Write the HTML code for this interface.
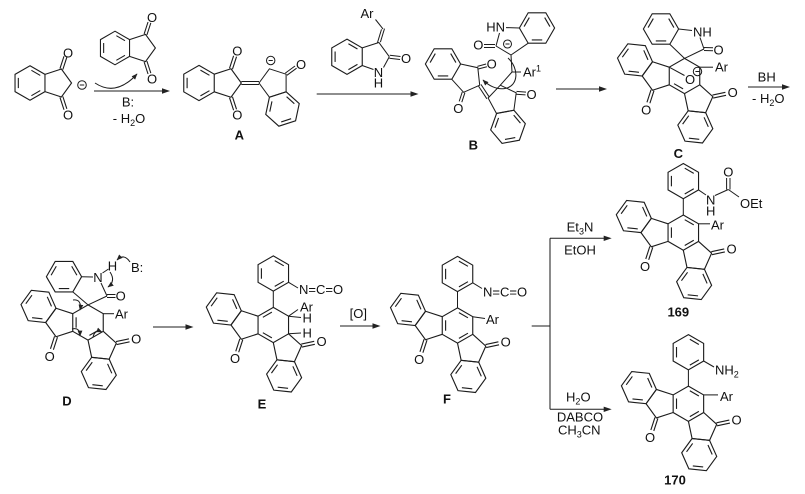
<!DOCTYPE html>
<html><head><meta charset="utf-8">
<style>
html,body{margin:0;padding:0;background:#fff;}
svg{display:block;}
text{font-family:"Liberation Sans",Arial,sans-serif;font-size:13px;fill:#111;stroke:none;}
.b{font-weight:bold;}
</style></head><body>
<svg width="805" height="494" viewBox="0 0 805 494" xmlns="http://www.w3.org/2000/svg">
<defs>
<g id="bz">
<polygon points="0,-16 13.86,-8 13.86,8 0,16 -13.86,8 -13.86,-8"/>
<line x1="1.3" y1="-11.73" x2="9.51" y2="-6.99"/>
<line x1="9.51" y1="6.99" x2="1.3" y2="11.73"/>
<line x1="-10.81" y1="4.74" x2="-10.81" y2="-4.74"/>
</g>
<polygon id="hx" points="0,-16 13.86,-8 13.86,8 0,16 -13.86,8 -13.86,-8"/>
<g id="unit">
<polyline points="-13.86,-8 -29.08,-12.94 -38.48,0 -29.08,12.94 -13.86,8"/>
<line x1="-27.75" y1="13.37" x2="-31.46" y2="24.78"/>
<line x1="-30.41" y1="12.51" x2="-34.12" y2="23.92"/>
<use href="#bz" transform="translate(-44.99,-14.62) rotate(36)"/>
</g>
<g id="ind">
<use href="#bz"/>
<polyline points="13.86,-8 29.08,-12.94 38.48,0 29.08,12.94 13.86,8"/>
<line x1="30.41" y1="12.51" x2="34.12" y2="23.92"/>
<line x1="27.75" y1="13.37" x2="31.46" y2="24.78"/>
<line x1="30.41" y1="-12.51" x2="34.12" y2="-23.92"/>
<line x1="27.75" y1="-13.37" x2="31.46" y2="-24.78"/>
</g>
<marker id="ah" viewBox="0 0 10 10" refX="9" refY="5" markerWidth="6" markerHeight="6" orient="auto" markerUnits="userSpaceOnUse">
<path d="M0,1 L10,5 L0,9 z" fill="#222" stroke="none"/>
</marker>
</defs>

<g stroke="#1c1c1c" stroke-width="1.02" fill="none">
<!-- ===== Row 1 ===== -->
<use href="#ind" transform="translate(30,83) scale(1.08)"/>
<circle cx="82" cy="85" r="4.3"/><line x1="79.8" y1="85" x2="84.2" y2="85"/>
<use href="#ind" transform="translate(115,48) scale(1.05)"/>
<path d="M95,83 Q116,97 137,74" marker-end="url(#ah)"/>
<line x1="94" y1="91" x2="163" y2="91"/>
<polygon points="170,91 162,88.3 162,93.7" fill="#222" stroke="none"/>

<!-- A -->
<use href="#ind" transform="translate(199,83) scale(1.1)"/>
<line x1="241.3" y1="81.5" x2="259" y2="81.5"/><line x1="241.3" y1="84.5" x2="259" y2="84.5"/>
<polygon points="259,83 269.4,68.8 286.1,74.2 286.1,91.8 269.4,97.2"/>
<use href="#bz" transform="translate(282.5,109) rotate(12) scale(1.1)"/>
<line x1="286.9" y1="75.3" x2="296.6" y2="68.2"/><line x1="285.3" y1="73.1" x2="295" y2="66"/>
<circle cx="270.7" cy="60.5" r="4.2"/><line x1="268.6" y1="60.5" x2="272.8" y2="60.5"/>

<!-- arrow 2 + reagent -->
<line x1="316.7" y1="94" x2="411" y2="94"/>
<polygon points="418.5,94 410.5,91.3 410.5,96.7" fill="#222" stroke="none"/>
<use href="#bz" transform="translate(347,56.7) scale(1.1)"/>
<polyline points="362.2,47.9 378.9,42.5 389.3,56.7"/>
<line x1="362.2" y1="65.5" x2="373.5" y2="69.5"/>
<line x1="383.5" y1="67.5" x2="389.3" y2="56.7"/>
<line x1="389.8" y1="55.2" x2="400.5" y2="56.5"/><line x1="389.3" y1="58.2" x2="400" y2="59.5"/>
<line x1="377.4" y1="42.9" x2="381.5" y2="29.4"/><line x1="380.4" y1="42.1" x2="384.5" y2="28.6"/>
<line x1="383" y1="29" x2="375.5" y2="19.5"/>

<!-- B -->
<use href="#bz" transform="translate(443,64) rotate(30) scale(1.1)"/>
<polyline points="460.6,64 477.8,67.7 479.7,85.2 463.6,92.3 451.8,79.3"/>
<line x1="478.2" y1="69.05" x2="486.9" y2="66.7"/><line x1="477.4" y1="66.35" x2="486.1" y2="64"/>
<line x1="464.9" y1="92.7" x2="461.8" y2="102.2"/><line x1="462.3" y1="91.9" x2="459.2" y2="101.4"/>
<line x1="480.95" y1="84.4" x2="489.35" y2="97.2"/><line x1="478.45" y1="86" x2="486.85" y2="98.8"/>
<polygon points="488.1,98 500.3,85.2 516.2,92.8 513.9,110.3 496.5,113.5"/>
<line x1="516.5" y1="91.4" x2="526" y2="92.1"/><line x1="516" y1="94.2" x2="525.5" y2="94.9"/>
<use href="#bz" transform="translate(508,126.8) rotate(19.7) scale(1.1)"/>
<line x1="500.3" y1="85.2" x2="512" y2="72"/>
<line x1="512" y1="72" x2="521" y2="72"/>
<line x1="512" y1="72" x2="511" y2="55"/>
<line x1="511" y1="55" x2="528.2" y2="43.2"/>
<line x1="511" y1="55" x2="496" y2="46"/>
<line x1="496" y1="46" x2="499.5" y2="33"/>
<line x1="506" y1="27.6" x2="519.4" y2="28"/>
<use href="#bz" transform="translate(537,28) rotate(30) scale(1.1)"/>
<line x1="495" y1="44.5" x2="484" y2="44.5"/><line x1="495" y1="47.5" x2="484" y2="47.5"/>
<circle cx="507.5" cy="44" r="4"/><line x1="505.5" y1="44" x2="509.5" y2="44"/>
<path d="M508,58 C519,68 519,86 505,88.5 C496,90 488,85 483,80" marker-end="url(#ah)"/>

<line x1="556" y1="89" x2="600" y2="89"/>
<polygon points="607,89 599,86.3 599,91.7" fill="#222" stroke="none"/>

<!-- C -->
<g transform="translate(684.5,76) scale(1.1)">
<use href="#hx"/><line x1="-9.51" y1="6.99" x2="-1.3" y2="11.73"/>
<use href="#unit"/><use href="#unit" transform="rotate(-120)"/>
</g>
<line x1="699.75" y1="67.2" x2="713" y2="67.2"/>
<line x1="669.25" y1="67.2" x2="684.5" y2="75.5"/>
<circle cx="697.5" cy="71.5" r="4.2"/><line x1="695.4" y1="71.5" x2="699.6" y2="71.5"/>
<line x1="684.5" y1="58.4" x2="704" y2="49"/>
<line x1="704" y1="47.5" x2="713" y2="47.8"/><line x1="704" y1="50.5" x2="713" y2="50.8"/>
<line x1="704" y1="49" x2="700" y2="37.5"/>
<line x1="678.6" y1="29" x2="692" y2="30.5"/>
<line x1="684.5" y1="58.4" x2="669.8" y2="44.2"/>
<use href="#bz" transform="translate(661,29) rotate(30) scale(1.1)"/>

<line x1="748" y1="87" x2="783" y2="87"/>
<polygon points="790,87 782,84.3 782,89.7" fill="#222" stroke="none"/>

<!-- ===== Row 2 ===== -->
<!-- D -->
<g transform="translate(88,322.5) scale(1.1)">
<use href="#hx"/>
<line x1="-10.81" y1="4.74" x2="-10.81" y2="-4.74"/>
<line x1="9.51" y1="6.99" x2="1.3" y2="11.73"/>
<use href="#unit"/><use href="#unit" transform="rotate(-120)"/>
</g>
<line x1="103.25" y1="313.7" x2="114" y2="313.7"/>
<use href="#bz" transform="translate(64,276.7) rotate(30) scale(1.1)"/>
<line x1="88" y1="304.9" x2="72.8" y2="291.9"/>
<line x1="88" y1="304.9" x2="107" y2="296"/>
<line x1="107" y1="296" x2="101" y2="283"/>
<line x1="81.6" y1="276.7" x2="93" y2="277"/>
<line x1="107" y1="294.5" x2="115.5" y2="294.5"/><line x1="107" y1="297.5" x2="115.5" y2="297.5"/>
<line x1="102.5" y1="273" x2="108.5" y2="269"/>
<path d="M130,262 Q124,253 117,260" marker-end="url(#ah)"/>
<path d="M110,272 Q116,281 108,287" marker-end="url(#ah)"/>
<path d="M73,300 Q82,299 80,310" marker-end="url(#ah)"/>
<path d="M72,329 Q80,327 80,336" marker-end="url(#ah)"/>
<path d="M93,337 Q95,329 102,332" marker-end="url(#ah)"/>

<line x1="153" y1="327" x2="186" y2="327"/>
<polygon points="193.5,327 185.5,324.3 185.5,329.7" fill="#222" stroke="none"/>

<!-- E -->
<g transform="translate(273.3,325) scale(1.1)">
<use href="#hx"/>
<line x1="-1.3" y1="-11.73" x2="-9.51" y2="-6.99"/>
<line x1="-9.51" y1="6.99" x2="-1.3" y2="11.73"/>
<use href="#unit"/><use href="#unit" transform="rotate(-120)"/>
</g>
<use href="#bz" transform="translate(273.3,273.5) scale(1.1)"/>
<line x1="273.3" y1="307.4" x2="273.3" y2="291.1"/>
<line x1="288.55" y1="282.3" x2="298" y2="288"/>
<line x1="288.55" y1="316.2" x2="298" y2="309.5"/>
<line x1="288.55" y1="316.2" x2="301" y2="317.5"/>
<line x1="288.55" y1="333.8" x2="301" y2="333"/>

<line x1="340" y1="326" x2="373" y2="326"/>
<polygon points="380.5,326 372.5,323.3 372.5,328.7" fill="#222" stroke="none"/>

<!-- F -->
<g transform="translate(457.5,325.5) scale(1.1)">
<use href="#bz"/>
<use href="#unit"/><use href="#unit" transform="rotate(-120)"/>
</g>
<use href="#bz" transform="translate(457.5,274) scale(1.1)"/>
<line x1="457.5" y1="307.9" x2="457.5" y2="291.6"/>
<line x1="472.75" y1="282.8" x2="482" y2="288.5"/>
<line x1="472.75" y1="316.7" x2="485" y2="318.5"/>

<line x1="531.7" y1="326" x2="550" y2="326"/>
<line x1="550" y1="238.3" x2="550" y2="409.3"/>
<line x1="550" y1="238.3" x2="604" y2="238.3"/>
<polygon points="611.7,238.3 603.7,235.6 603.7,241" fill="#222" stroke="none"/>
<line x1="550" y1="409.3" x2="604" y2="409.3"/>
<polygon points="611.7,409.3 603.7,406.6 603.7,412" fill="#222" stroke="none"/>

<!-- 169 -->
<g transform="translate(683.3,232.6) scale(1.1)">
<use href="#bz"/>
<use href="#unit"/><use href="#unit" transform="rotate(-120)"/>
</g>
<use href="#bz" transform="translate(683.3,181.1) scale(1.1)"/>
<line x1="683.3" y1="215" x2="683.3" y2="198.7"/>
<line x1="698.55" y1="189.9" x2="706" y2="195"/>
<line x1="715" y1="195.5" x2="728.3" y2="189.5"/>
<line x1="726.6" y1="189.5" x2="726.6" y2="178"/><line x1="730" y1="189.5" x2="730" y2="178"/>
<line x1="728.3" y1="189.5" x2="739" y2="197"/>
<line x1="698.55" y1="223.8" x2="710" y2="223.8"/>

<!-- 170 -->
<g transform="translate(688.4,403.7) scale(1.1)">
<use href="#bz"/>
<use href="#unit"/><use href="#unit" transform="rotate(-120)"/>
</g>
<use href="#bz" transform="translate(688.4,352.2) scale(1.1)"/>
<line x1="688.4" y1="386.1" x2="688.4" y2="369.8"/>
<line x1="703.65" y1="361" x2="714" y2="367"/>
<line x1="703.65" y1="394.9" x2="718" y2="394.9"/>
</g>

<!-- ===== TEXT ===== -->
<g>
<text x="68" y="57.7" text-anchor="middle">O</text>
<text x="68" y="119.7" text-anchor="middle">O</text>
<text x="152" y="22.2" text-anchor="middle">O</text>
<text x="152" y="83.7" text-anchor="middle">O</text>
<text x="128" y="106.5" text-anchor="middle">B:</text>
<text x="129" y="123" text-anchor="middle">- H<tspan font-size="9" dy="3">2</tspan><tspan dy="-3">O</tspan></text>

<text x="237.3" y="55.7" text-anchor="middle">O</text>
<text x="237.3" y="119.7" text-anchor="middle">O</text>
<text x="301" y="69" text-anchor="middle">O</text>
<text class="b" x="239.3" y="139.7" text-anchor="middle">A</text>

<text x="367" y="18.2" text-anchor="middle">Ar</text>
<text x="406" y="63" text-anchor="middle">O</text>
<text x="378.5" y="77.2" text-anchor="middle">N</text>
<text x="378.5" y="87.7" text-anchor="middle">H</text>

<text x="491.7" y="68.7" text-anchor="middle">O</text>
<text x="458.3" y="113" text-anchor="middle">O</text>
<text x="531.5" y="99.2" text-anchor="middle">O</text>
<text x="505" y="31.5" text-anchor="end">HN</text>
<text x="478.3" y="49.7" text-anchor="middle">O</text>
<text x="523" y="76.5">Ar<tspan font-size="9" dy="-5">1</tspan></text>
<text class="b" x="473.3" y="149.7" text-anchor="middle">B</text>

<text x="715" y="71.5">Ar</text>
<text x="690" y="84" text-anchor="middle">O</text>
<text x="693" y="36.5">NH</text>
<text x="718.5" y="54.7" text-anchor="middle">O</text>
<text x="646.2" y="114.3" text-anchor="middle">O</text>
<text x="732.7" y="97" text-anchor="middle">O</text>
<text class="b" x="678.3" y="158" text-anchor="middle">C</text>
<text x="766.7" y="81.4" text-anchor="middle">BH</text>
<text x="768.3" y="103" text-anchor="middle">- H<tspan font-size="9" dy="3">2</tspan><tspan dy="-3">O</tspan></text>

<text x="115" y="318.5">Ar</text>
<text x="98" y="282.2" text-anchor="middle">N</text>
<text x="112.5" y="270.7" text-anchor="middle">H</text>
<text x="131" y="272">B:</text>
<text x="120.7" y="300.7" text-anchor="middle">O</text>
<text x="49.7" y="360.8" text-anchor="middle">O</text>
<text x="136.2" y="343.5" text-anchor="middle">O</text>
<text class="b" x="67" y="405.7" text-anchor="middle">D</text>

<text x="299" y="294">N=C=O</text>
<text x="300" y="311.5">Ar</text>
<text x="302.5" y="322.4">H</text>
<text x="302.5" y="337.4">H</text>
<text x="235" y="363" text-anchor="middle">O</text>
<text x="321.5" y="346" text-anchor="middle">O</text>
<text class="b" x="262" y="408.7" text-anchor="middle">E</text>
<text x="358.3" y="318" text-anchor="middle">[O]</text>

<text x="483" y="296.4">N=C=O</text>
<text x="486" y="324">Ar</text>
<text x="419.2" y="363.8" text-anchor="middle">O</text>
<text x="505.7" y="346.5" text-anchor="middle">O</text>
<text class="b" x="447" y="403.7" text-anchor="middle">F</text>

<text x="580" y="231.4" text-anchor="middle">Et<tspan font-size="9" dy="3">3</tspan><tspan dy="-3">N</tspan></text>
<text x="580" y="254.7" text-anchor="middle">EtOH</text>
<text x="578.3" y="401.4" text-anchor="middle">H<tspan font-size="9" dy="3">2</tspan><tspan dy="-3">O</tspan></text>
<text x="580" y="421.4" text-anchor="middle">DABCO</text>
<text x="579.3" y="434.7" text-anchor="middle">CH<tspan font-size="9" dy="3">3</tspan><tspan dy="-3">CN</tspan></text>

<text x="710.7" y="204.7" text-anchor="middle">N</text>
<text x="710.7" y="215.7" text-anchor="middle">H</text>
<text x="728.3" y="176.4" text-anchor="middle">O</text>
<text x="740" y="208">OEt</text>
<text x="711" y="229.7">Ar</text>
<text x="645" y="270.9" text-anchor="middle">O</text>
<text x="731.5" y="253.6" text-anchor="middle">O</text>
<text class="b" x="678.3" y="316.4" text-anchor="middle">169</text>

<text x="715" y="374.7">NH<tspan font-size="9" dy="3">2</tspan></text>
<text x="720" y="401">Ar</text>
<text x="650.1" y="442" text-anchor="middle">O</text>
<text x="736.6" y="424.7" text-anchor="middle">O</text>
<text class="b" x="675" y="484.7" text-anchor="middle">170</text>
</g>
</svg>
</body></html>
